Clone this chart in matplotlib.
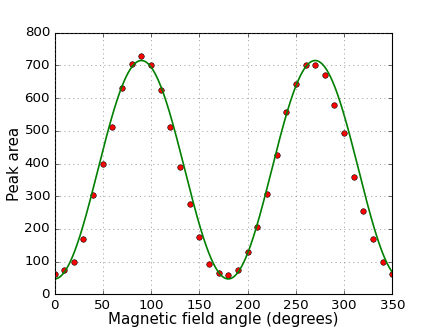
import matplotlib
matplotlib.use("Agg")
import matplotlib.pyplot as plt
import numpy as np

plt.style.use('classic')

# Measured peak areas, one every 10 degrees
angles = np.arange(0, 360, 10)
peak_area = [61, 74, 100, 170, 303, 399, 512, 631, 703, 730,
             701, 625, 511, 389, 276, 176, 93, 65, 58, 73,
             130, 206, 306, 426, 556, 643, 702, 701, 672, 580,
             492, 358, 254, 169, 99, 61]

# Fitted model a - b*cos(2*(x - phase)), parameters
fit_offset = 381.0
fit_amplitude = 334.0
fit_phase = 0.0

fit_x = np.linspace(0, 360, 721)
fit_y = fit_offset - fit_amplitude * np.cos(2 * np.radians(fit_x - fit_phase))

fig = plt.figure(figsize=(5.45, 4.0875), dpi=80)
ax = fig.add_subplot(111)

ax.plot(angles, peak_area, 'ro', markersize=5, markeredgecolor='k', markeredgewidth=0.5)
ax.plot(fit_x, fit_y, color='g', linewidth=1.5)

ax.set_xlim(0, 350)
ax.set_ylim(0, 800)
ax.set_xticks(np.arange(0, 351, 50))
ax.set_yticks(np.arange(0, 801, 100))
ax.tick_params(labelsize=12)
ax.grid(True, color='0.4')

ax.set_xlabel('Magnetic field angle (degrees)', fontsize=13.5, labelpad=0)
ax.set_ylabel('Peak area', fontsize=13.5, labelpad=2)

fig.savefig('out.png', dpi=80)
